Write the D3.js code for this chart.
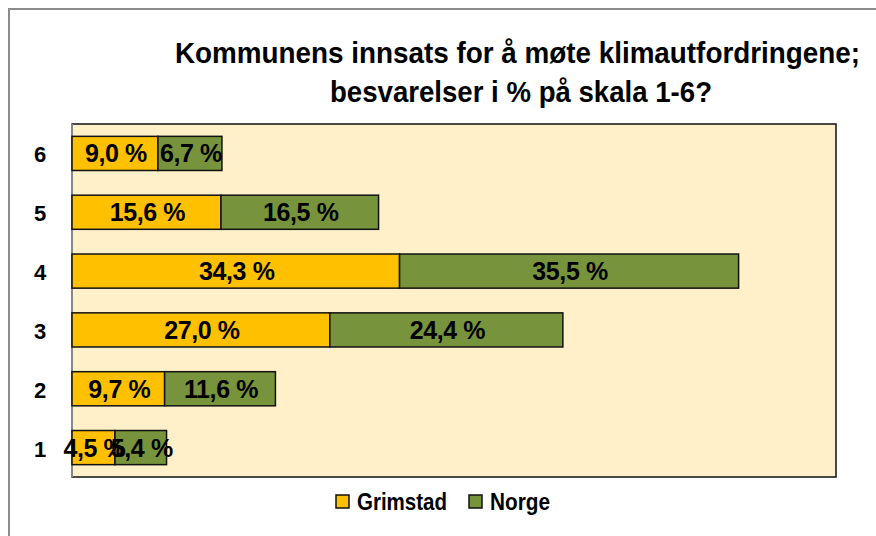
<!DOCTYPE html>
<html><head>
<meta charset="utf-8">
<script src="https://d3js.org/d3.v7.min.js"></script>
<style>
  body { margin: 0; background: #fff; }
  text { font-family: "Liberation Sans", Arial, sans-serif; font-weight: bold; }
</style>
</head>
<body>
<div id="chart"></div>
<script>
// data
var categories = ["6", "5", "4", "3", "2", "1"];
var grimstad = [9.0, 15.6, 34.3, 27.0, 9.7, 4.5];
var norge = [6.7, 16.5, 35.5, 24.4, 11.6, 5.4];
var seriesNames = ["Grimstad", "Norge"];
var colors = ["#FFC000", "#77933C"];

var W = 876, H = 536;
var plot = {left: 72, top: 124, right: 836, bottom: 477};

var svg = d3.select("#chart").append("svg")
  .attr("width", W).attr("height", H);

// outer chart border
svg.append("rect")
  .attr("x", 9).attr("y", 9)
  .attr("width", 900).attr("height", 600)
  .attr("fill", "#fff")
  .attr("stroke", "#8c8c8c").attr("stroke-width", 2);

// title
svg.append("text")
  .attr("x", 175).attr("y", 63)
  .attr("textLength", 685).attr("lengthAdjust", "spacingAndGlyphs")
  .style("font-size", "30px")
  .text("Kommunens innsats for å møte klimautfordringene;");
svg.append("text")
  .attr("x", 330).attr("y", 102)
  .attr("textLength", 382).attr("lengthAdjust", "spacingAndGlyphs")
  .style("font-size", "30px")
  .text("besvarelser i % på skala 1-6?");

var x = d3.scaleLinear().domain([0, 80]).range([plot.left, plot.right]);
var y = d3.scaleBand().domain(categories).range([plot.top, plot.bottom]).paddingInner(0.42).paddingOuter(0.21);

// plot area
svg.append("rect")
  .attr("x", plot.left).attr("y", plot.top)
  .attr("width", plot.right - plot.left).attr("height", plot.bottom - plot.top)
  .attr("fill", "#FFF0CA")
  .attr("stroke", "#111").attr("stroke-width", 1.5);
svg.append("line")
  .attr("x1", plot.left).attr("x2", plot.left)
  .attr("y1", plot.top).attr("y2", plot.bottom)
  .attr("stroke", "#888").attr("stroke-width", 2);

var fmt = function(v) { return d3.format(".1f")(v).replace(".", ",") + " %"; };

var rows = categories.map(function(c, i) {
  return {cat: c, vals: [grimstad[i], norge[i]]};
});

rows.forEach(function(r) {
  var start = 0;
  r.vals.forEach(function(v, k) {
    svg.append("rect")
      .attr("x", x(start)).attr("y", y(r.cat))
      .attr("width", x(start + v) - x(start)).attr("height", y.bandwidth())
      .attr("fill", colors[k])
      .attr("stroke", "#111").attr("stroke-width", 1.5);
    start += v;
  });
});

// labels drawn after bars so they overlap like the original
rows.forEach(function(r) {
  var start = 0;
  r.vals.forEach(function(v, k) {
    svg.append("text")
      .attr("x", (x(start) + x(start + v)) / 2 + 1)
      .attr("y", y(r.cat) + y.bandwidth() / 2 + 9)
      .attr("text-anchor", "middle")
      .style("font-size", "25px")
      .style("letter-spacing", "-0.4px")
      .attr("fill", "#000")
      .text(fmt(v));
    start += v;
  });
});

// category axis labels
svg.selectAll(".cat").data(categories).enter().append("text")
  .attr("x", 40)
  .attr("y", function(d) { return y(d) + y.bandwidth() / 2 + 9; })
  .attr("text-anchor", "middle")
  .style("font-size", "22px")
  .text(function(d) { return d; });

// legend
var legendX = [336, 469];
var legendLen = [90, 60];
seriesNames.forEach(function(n, k) {
  svg.append("rect")
    .attr("x", legendX[k]).attr("y", 495)
    .attr("width", 13).attr("height", 13)
    .attr("fill", colors[k]).attr("stroke", "#111").attr("stroke-width", 1.5);
  svg.append("text")
    .attr("x", legendX[k] + 21).attr("y", 510)
    .attr("textLength", legendLen[k]).attr("lengthAdjust", "spacingAndGlyphs")
    .style("font-size", "24px")
    .text(n);
});
</script>
</body></html>
